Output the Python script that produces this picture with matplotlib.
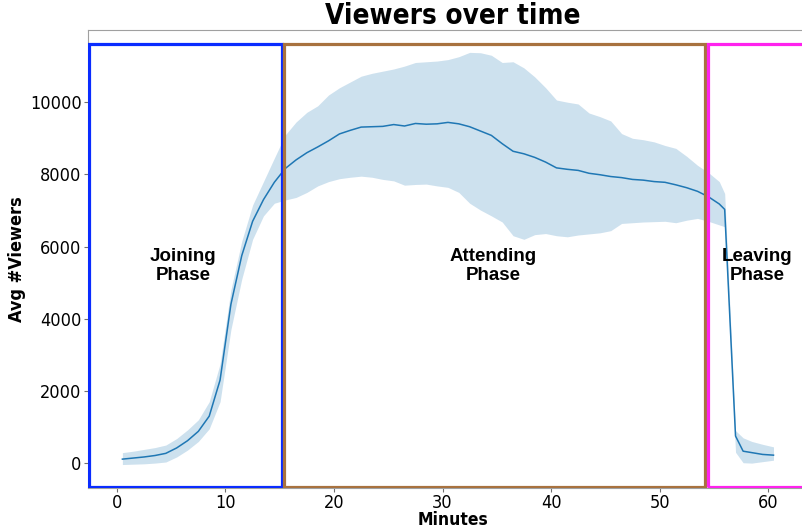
import matplotlib
matplotlib.use("Agg")
import matplotlib.pyplot as plt
from matplotlib.patches import Rectangle

plt.rcParams["font.family"] = ["DejaVu Sans"]
plt.rcParams["font.stretch"] = "condensed"

minutes = [0.5, 1.5, 2.5, 3.5, 4.5, 5.5, 6.5, 7.5, 8.5, 9.5,
           10.5, 11.5, 12.5, 13.5, 14.5, 15.5, 16.5, 17.5, 18.5, 19.5,
           20.5, 21.5, 22.5, 23.5, 24.5, 25.5, 26.5, 27.5, 28.5, 29.5,
           30.5, 31.5, 32.5, 33.5, 34.5, 35.5, 36.5, 37.5, 38.5, 39.5,
           40.5, 41.5, 42.5, 43.5, 44.5, 45.5, 46.5, 47.5, 48.5, 49.5,
           50.5, 51.5, 52.5, 53.5, 54.5, 55.5, 56.0, 57.0, 57.7, 58.5,
           59.5, 60.5]

mean_viewers = [110, 140, 170, 210, 270, 420, 620, 880, 1300, 2300,
                4400, 5750, 6700, 7300, 7780, 8160, 8400, 8600, 8760, 8930,
                9120, 9220, 9310, 9320, 9330, 9380, 9340, 9410, 9390, 9400,
                9440, 9400, 9320, 9200, 9080, 8850, 8640, 8570, 8470, 8340,
                8180, 8140, 8110, 8030, 7990, 7940, 7910, 7860, 7840, 7800,
                7780, 7710, 7630, 7530, 7380, 7180, 7030, 750, 330, 290,
                240, 220]

upper_viewers = [290, 330, 380, 430, 500, 680, 920, 1200, 1700, 2750,
                 4800, 6150, 7150, 7800, 8450, 9090, 9450, 9720, 9900, 10200,
                 10400, 10560, 10720, 10800, 10860, 10920, 11000, 11100, 11120, 11140,
                 11180, 11260, 11380, 11370, 11300, 11100, 11120, 10950, 10700, 10400,
                 10060, 10000, 9950, 9700, 9600, 9480, 9130, 9000, 8960, 8900,
                 8800, 8720, 8500, 8250, 8050, 7800, 7470, 900, 700, 600,
                 520, 450]

lower_viewers = [-40, -30, -20, 0, 30, 170, 360, 600, 950, 1700,
                 3700, 5100, 6200, 6850, 7200, 7290, 7360, 7500, 7680, 7800,
                 7880, 7920, 7950, 7920, 7860, 7820, 7700, 7720, 7730, 7680,
                 7640, 7500, 7200, 7010, 6850, 6680, 6300, 6200, 6330, 6360,
                 6300, 6270, 6320, 6350, 6380, 6440, 6640, 6660, 6680, 6690,
                 6700, 6660, 6730, 6780, 6700, 6600, 6550, 300, 10, 0,
                 40, 80]

phase_names = ["Joining\nPhase", "Attending\nPhase", "Leaving\nPhase"]
phase_start = [-2.6, 15.35, 54.45]
phase_end = [15.2, 54.15, 64.5]
phase_colors = ["#0a2cff", "#a8723f", "#ff22ee"]
label_x = [6.1, 34.7, 59.0]
label_y = 5450

fig = plt.figure(figsize=(8.03, 5.29), dpi=100)
ax = fig.add_axes([88 / 803, (529 - 488) / 529, 730 / 803, 458 / 529])

ax.fill_between(minutes, lower_viewers, upper_viewers, color="#1f77b4",
                alpha=0.22, linewidth=0)
ax.plot(minutes, mean_viewers, color="#1f77b4", linewidth=1.1)

ymin, ymax = -690, 12000
ax.set_xlim(-2.67, 64.6)
ax.set_ylim(ymin, ymax)

for s, e, c in zip(phase_start, phase_end, phase_colors):
    ax.add_patch(Rectangle((s, ymin + 20), e - s, 11600 - ymin - 20,
                           fill=False, edgecolor=c, linewidth=2.3, zorder=3))

for name, lx in zip(phase_names, label_x):
    ax.text(lx, label_y, name, ha="center", va="center", fontsize=13.5,
            fontweight="bold", family=["Liberation Sans"],
            linespacing=1.15)

for sp in ax.spines.values():
    sp.set_color("#a0a0a0")
ax.tick_params(colors="#707070", labelcolor="black", labelsize=13, length=3, pad=1.5)
ax.set_xticks([0, 10, 20, 30, 40, 50, 60])
ax.set_yticks([0, 2000, 4000, 6000, 8000, 10000])

ax.set_title("Viewers over time", fontsize=20, fontweight="bold", pad=4)
ax.set_xlabel("Minutes", fontsize=12.5, fontweight="bold", labelpad=-1)
ax.set_ylabel("Avg #Viewers", fontsize=13, fontweight="bold", labelpad=3)

fig.savefig("out.png", dpi=100)
